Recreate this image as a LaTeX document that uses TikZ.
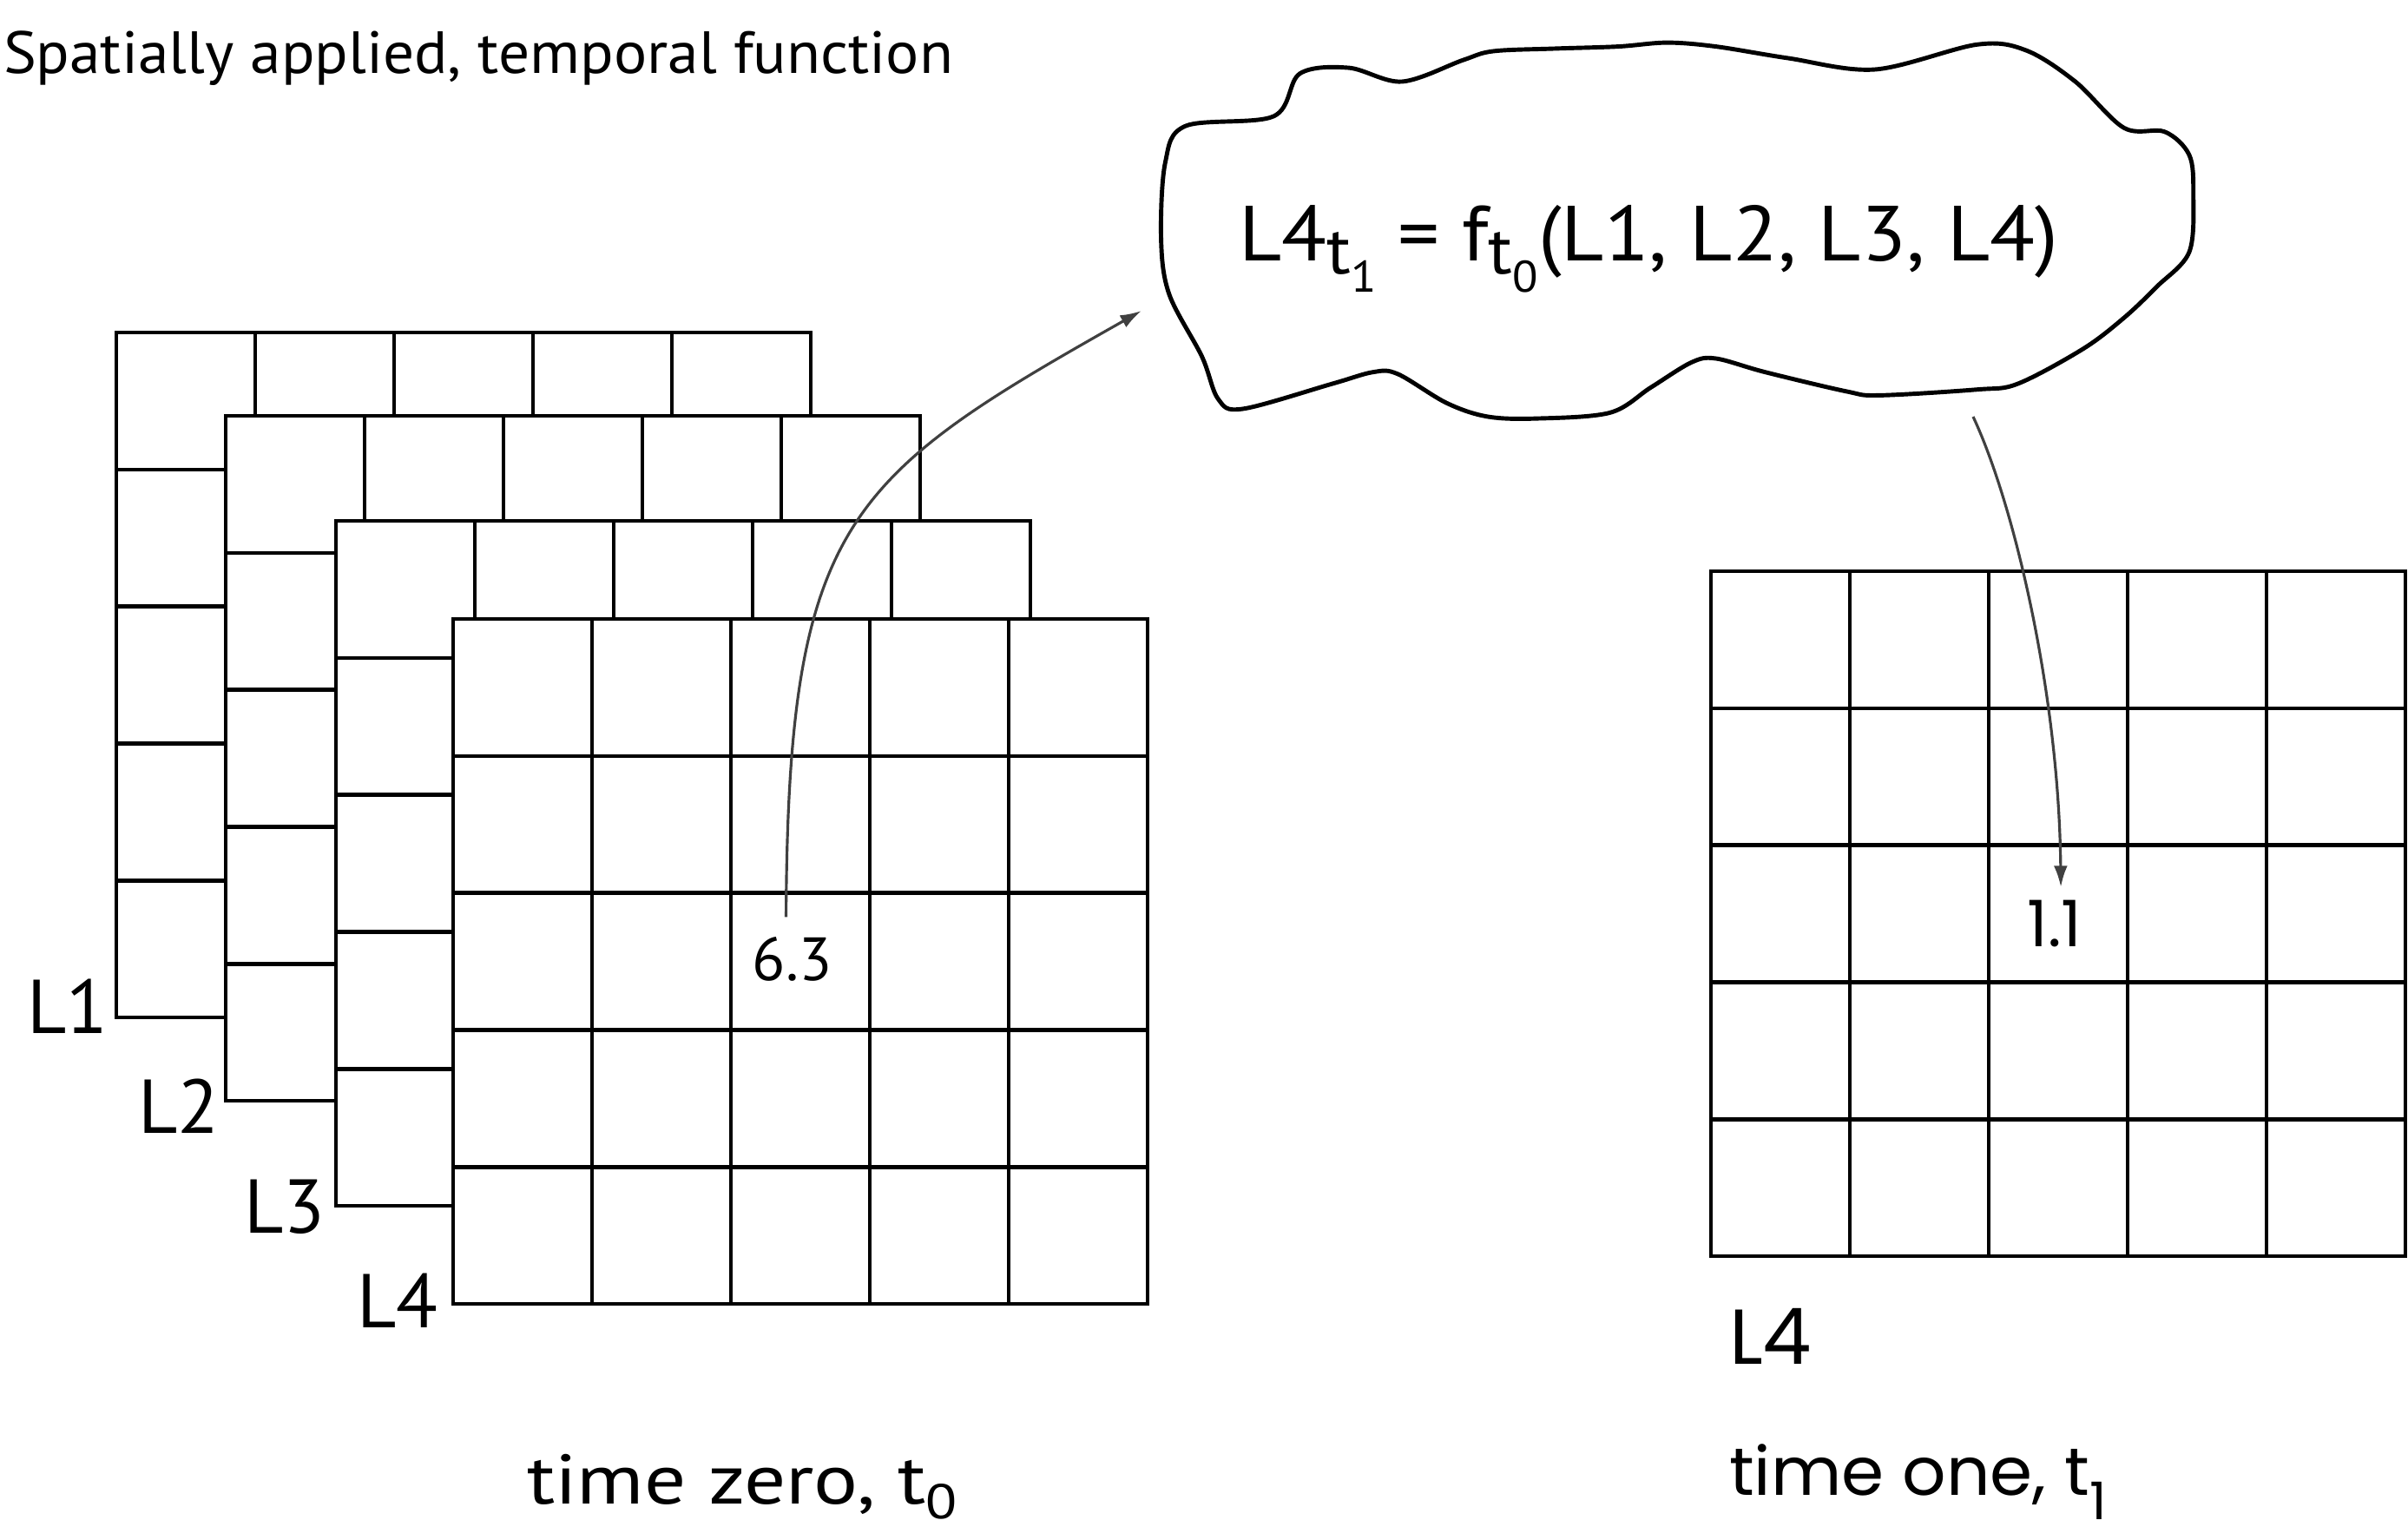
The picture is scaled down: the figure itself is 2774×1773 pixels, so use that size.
\documentclass[tikz,border=0pt]{standalone}
\usepackage{graphicx}
\usepackage{fontspec}
\setmainfont{PT Sans}
\newfontfamily\popp{Poppins}
\usetikzlibrary{arrows.meta}
\newcommand\tsubx[1]{\raisebox{-4.5pt}{\fontsize{22}{22}\selectfont t\raisebox{-6pt}{\fontsize{14.5}{14.5}\selectfont #1}}}
\begin{document}
\begin{tikzpicture}[x=0.1mm,y=-0.1mm,
  gridbox/.style={draw=black, fill=white, line width=1.3pt, anchor=north west,
    minimum width=80mm, minimum height=78.9mm, inner sep=0pt, outer sep=0pt},
  gridline/.style={draw=black, line width=1.3pt},
  cloudline/.style={draw=black, line width=1.4pt},
  conn/.style={draw=black!75, line width=0.9pt, -{Latex[length=7pt,width=4.5pt]}},
  txt/.style={anchor=base west, inner sep=0pt, outer sep=0pt},
  lab/.style={txt, font=\fontsize{25}{25}\selectfont},
  val/.style={anchor=base west, inner xsep=0pt, inner ysep=2.2mm}]
\useasboundingbox (0,0) rectangle (2774,1773);
% title
\node[txt] (title) at (4,84) {\resizebox{109.4mm}{\height}{\fontsize{19.5}{20}\selectfont Spatially applied, temporal function}};
% stacked grids and the grid at time one
\foreach \n/\x/\y in {g1/134/383, g2/260/479, g3/387/600, g4/522/713, g5/1971/658} {
  \node[gridbox] (\n) at (\x,\y) {};
  \foreach \k in {1,...,4} {
    \draw[gridline] (\x+\k*160,\y) -- (\x+\k*160,\y+789);
    \draw[gridline] (\x,\y+\k*157.8) -- (\x+800,\y+\k*157.8);
  }
}
% layer labels
\node[lab] (l1) at (31,1190) {L1};
\node[lab] (l2) at (159,1305) {L2};
\node[lab] (l3) at (281,1420) {L3};
\node[lab] (l4) at (411,1529) {L4};
\node[lab, font=\popp\fontsize{25.5}{25.5}\selectfont] (r4) at (1992,1571) {L4};
% values
\node[val, font=\fontsize{20}{20}\selectfont] (v63) at (866,1129) {6.3};
\node[val, inner ysep=1.4mm, font=\popp\fontsize{21}{21}\selectfont] (v11) at (2335,1090) {1.1};
% captions
\node[txt] (cap0) at (607,1732) {\resizebox{49.6mm}{\height}{\fontsize{23}{23}\selectfont time zero, t\raisebox{-5pt}{\fontsize{16}{16}\selectfont 0}}};
\node[txt] (cap1) at (1992,1722) {\resizebox{43.5mm}{\height}{\popp\fontsize{22}{22}\selectfont time one, t\raisebox{-8pt}{\fontsize{17}{17}\selectfont 1}}};
% cloud
\draw[cloudline] plot[smooth cycle, tension=0.55] coordinates {
 (1365.8,145.1) (1467.3,133.9) (1497.4,84.8) (1553.8,78.1)
 (1615,94) (1685.4,69.2) (1720,59) (1790,56) (1864,53.6) (1920.4,49.1)
 (1976.8,53.6) (2060,67) (2160,80) (2277.6,51.3) (2334,58)
 (2390.5,93.8) (2446.8,147.3) (2493.8,151.8) (2522,178.6) (2526.7,223.2)
 (2522,290.2) (2484.4,330.4) (2446.8,366.1) (2399.8,401.8) (2324.6,442)
 (2277.6,448.7) (2164.8,455.4) (2127.2,450.9) (2033.2,428.6) (1976.8,413)
 (1948.6,417.4) (1901.6,446.4) (1854.6,475.4) (1770,482.1) (1713.6,479.9)
 (1666.6,464.3) (1610.2,430.8) (1582,428.6) (1535,442) (1431.6,471)
 (1403.4,459.8) (1384.6,410.7) (1347,339.3) (1337.6,276.8) (1342.3,187.5)};
\node[txt] (formula) at (1427,300) {\resizebox{94.4mm}{\height}{\fontsize{25.6}{26}\selectfont L4\tsubx{1} = f\tsubx{0}(L1, L2, L3, L4)}};
% connectors
\coordinate (cin) at (1315,358);
\coordinate (cout) at (2273,480);
\draw[conn] ([xshift=-0.7mm]v63.north) .. controls (908,600) and (975,550) .. (cin);
\draw[conn] (cout) .. controls (2320,580) and (2372,800) .. ([xshift=0.7mm]v11.north);
\end{tikzpicture}
\end{document}
